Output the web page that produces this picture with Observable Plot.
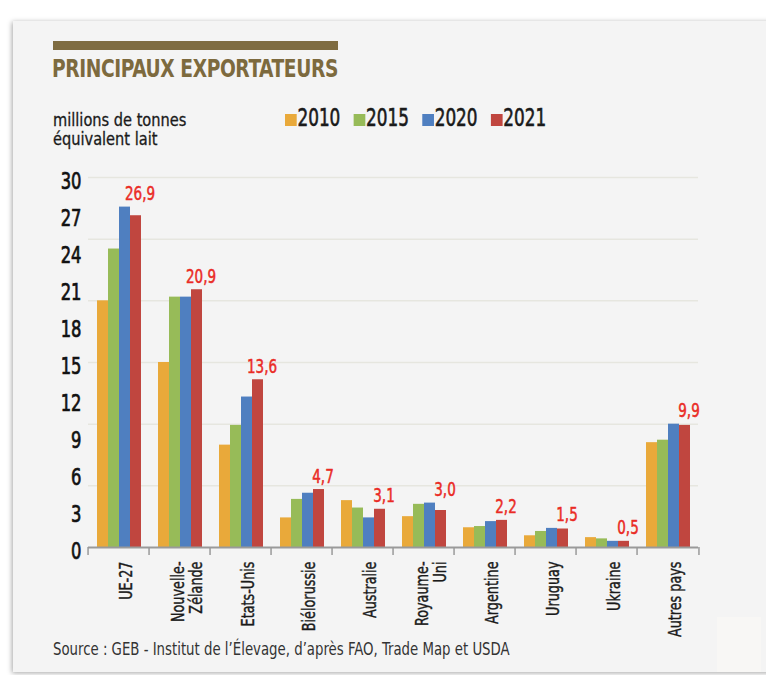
<!DOCTYPE html>
<html>
<head>
<meta charset="utf-8">
<script src="https://cdn.jsdelivr.net/npm/d3@7"></script>
<script src="https://cdn.jsdelivr.net/npm/@observablehq/plot@0.6"></script>
<style>
  html, body { margin: 0; padding: 0; background: #ffffff; }
  body { width: 766px; height: 675px; position: relative; overflow: hidden;
         font-family: 'DejaVu Sans Condensed', 'DejaVu Sans', sans-serif; }
  #card { position: absolute; left: 13px; top: 21px; width: 760px; height: 651px;
          background: #f4f4f4; box-shadow: -1px 1px 5px rgba(0,0,0,0.35); }
  #bar { position: absolute; left: 53px; top: 41px; width: 285px; height: 9px; background: #7f6c41; }
  #title { position: absolute; left: 52px; top: 53px; font-size: 25px; font-weight: bold;
           color: #7d6a3e; letter-spacing: -0.5px; white-space: nowrap; line-height: 32px;
           transform: scaleX(0.83); transform-origin: left center; }
  #ylabel { position: absolute; left: 53px; top: 110px; font-size: 18px; line-height: 19px; color: #1a1a1a;
            transform: scaleX(0.9); transform-origin: left top; white-space: nowrap;
            -webkit-text-stroke: 0.3px #1a1a1a; }
  #legend { position: absolute; left: 285px; top: 104px; display: flex; gap: 17px;
            transform: scaleX(0.78); transform-origin: left top; }
  .item { display: flex; align-items: center; font-size: 24px; color: #1a1a1a; line-height: 28px;
          -webkit-text-stroke: 0.6px #1a1a1a; }
  .sw { width: 15px; height: 12px; margin-right: 1px; margin-top: 3px; }
  #chart { position: absolute; left: 0; top: 160px; }
  #source { position: absolute; left: 53px; top: 639px; font-size: 17px; color: #333; white-space: nowrap;
            transform: scaleX(0.87); transform-origin: left top; }
  #patch { position: absolute; left: 717px; top: 617px; width: 44px; height: 55px; background: #f8f7f5; }
  #chart g[aria-label="y-axis tick label"] text { stroke: #111; stroke-width: 0.7px; }
  #chart g[aria-label="fx-axis tick label"] text { stroke: #1a1a1a; stroke-width: 0.4px; }
</style>
</head>
<body>
<div id="card"></div>
<div id="patch"></div>
<div id="bar"></div>
<div id="title">PRINCIPAUX EXPORTATEURS</div>
<div id="ylabel">millions de tonnes<br>équivalent lait</div>
<div id="legend"></div>
<div id="chart"></div>
<div id="source">Source : GEB - Institut de l’Élevage, d’après FAO, Trade Map et USDA</div>
<script>
const countries = ["UE-27", "Nouvelle-Zélande", "Etats-Unis", "Biélorussie", "Australie",
                   "Royaume-Uni", "Argentine", "Uruguay", "Ukraine", "Autres pays"];
const countryLabels = ["UE-27", "Nouvelle-\nZélande", "Etats-Unis", "Biélorussie", "Australie",
                       "Royaume-\nUni", "Argentine", "Uruguay", "Ukraine", "Autres pays"];
const years = ["2010", "2015", "2020", "2021"];
const colors = ["#e9a93a", "#97bb58", "#4f7fc0", "#c0463f"];
const v2010 = [20.0, 15.0, 8.3, 2.4, 3.8, 2.5, 1.6, 0.95, 0.8, 8.5];
const v2015 = [24.2, 20.3, 9.9, 3.9, 3.2, 3.5, 1.7, 1.3, 0.7, 8.7];
const v2020 = [27.6, 20.3, 12.2, 4.4, 2.4, 3.6, 2.1, 1.55, 0.5, 10.0];
const v2021 = [26.9, 20.9, 13.6, 4.7, 3.1, 3.0, 2.2, 1.5, 0.5, 9.9];
const yTicks = [0, 3, 6, 9, 12, 15, 18, 21, 24, 27, 30];
const gridValues = [5, 10, 15, 20, 25, 30];

const series = [v2010, v2015, v2020, v2021];
const data = [];
countries.forEach((c, i) => years.forEach((y, j) => data.push({country: c, year: y, value: series[j][i]})));
const labelRows = countries.map((c, i) => ({
  country: c, year: "2021", top: Math.max(v2020[i], v2021[i]),
  label: v2021[i].toFixed(1).replace(".", ",")
}));

// legend
const legend = document.getElementById("legend");
years.forEach((y, j) => {
  const it = document.createElement("div"); it.className = "item";
  const sw = document.createElement("div"); sw.className = "sw"; sw.style.background = colors[j];
  it.appendChild(sw); it.appendChild(document.createTextNode(y));
  legend.appendChild(it);
});

const width = 766, height = 490, marginLeft = 83, marginRight = 64;
const bw = (width - marginLeft - marginRight) / countries.length;

const chart = Plot.plot({
  width, height, marginLeft, marginRight, marginTop: 17, marginBottom: 103,
  style: {background: "transparent", fontFamily: "'DejaVu Sans Condensed', 'DejaVu Sans', sans-serif", overflow: "visible"},
  fx: {domain: countries, padding: 0},
  x: {domain: years, paddingInner: 0, paddingOuter: 0.75, axis: null},
  y: {domain: [0, 30]},
  color: {domain: years, range: colors},
  marks: [
    Plot.gridY(gridValues, {stroke: "#e6e6df", strokeOpacity: 1, strokeWidth: 1.5}),
    Plot.barY(data, {fx: "country", x: "year", y: "value", fill: "year", inset: 0}),
    Plot.ruleY([0], {stroke: "#9a9a9a", strokeWidth: 2}),
    Plot.text(labelRows, {fx: "country", x: "year", y: "top", text: "label", dy: -7, dx: 4,
      lineAnchor: "bottom", textAnchor: "middle", fill: "#ea2b25", stroke: "#ea2b25", strokeWidth: 0.5, fontSize: 19}),
    Plot.axisY(yTicks, {tickSize: 0, tickPadding: 7, fontSize: 23, dy: 4, fill: "#111", label: null}),
    Plot.axisFx({anchor: "bottom", tickSize: 0, tickPadding: 14, tickRotate: -90, fontSize: 18, dx: 7,
      fill: "#1a1a1a", label: null, tickFormat: (d) => countryLabels[countries.indexOf(d)]}),
    Plot.axisFx({anchor: "bottom", tickSize: 8, tickFormat: () => "", dx: -bw / 2, stroke: "#9a9a9a", strokeWidth: 1.5, label: null}),
    Plot.axisFx({anchor: "bottom", ticks: [countries[countries.length - 1]], tickSize: 8, tickFormat: () => "", dx: bw / 2, stroke: "#9a9a9a", strokeWidth: 1.5, label: null})
  ]
});
// condense the glyphs along the text direction, like the narrow font of the original
chart.querySelectorAll("text").forEach((t) => {
  const tr = t.getAttribute("transform");
  if (tr) t.setAttribute("transform", tr + " scale(0.79,1)");
});
document.getElementById("chart").appendChild(chart);
</script>
</body>
</html>
